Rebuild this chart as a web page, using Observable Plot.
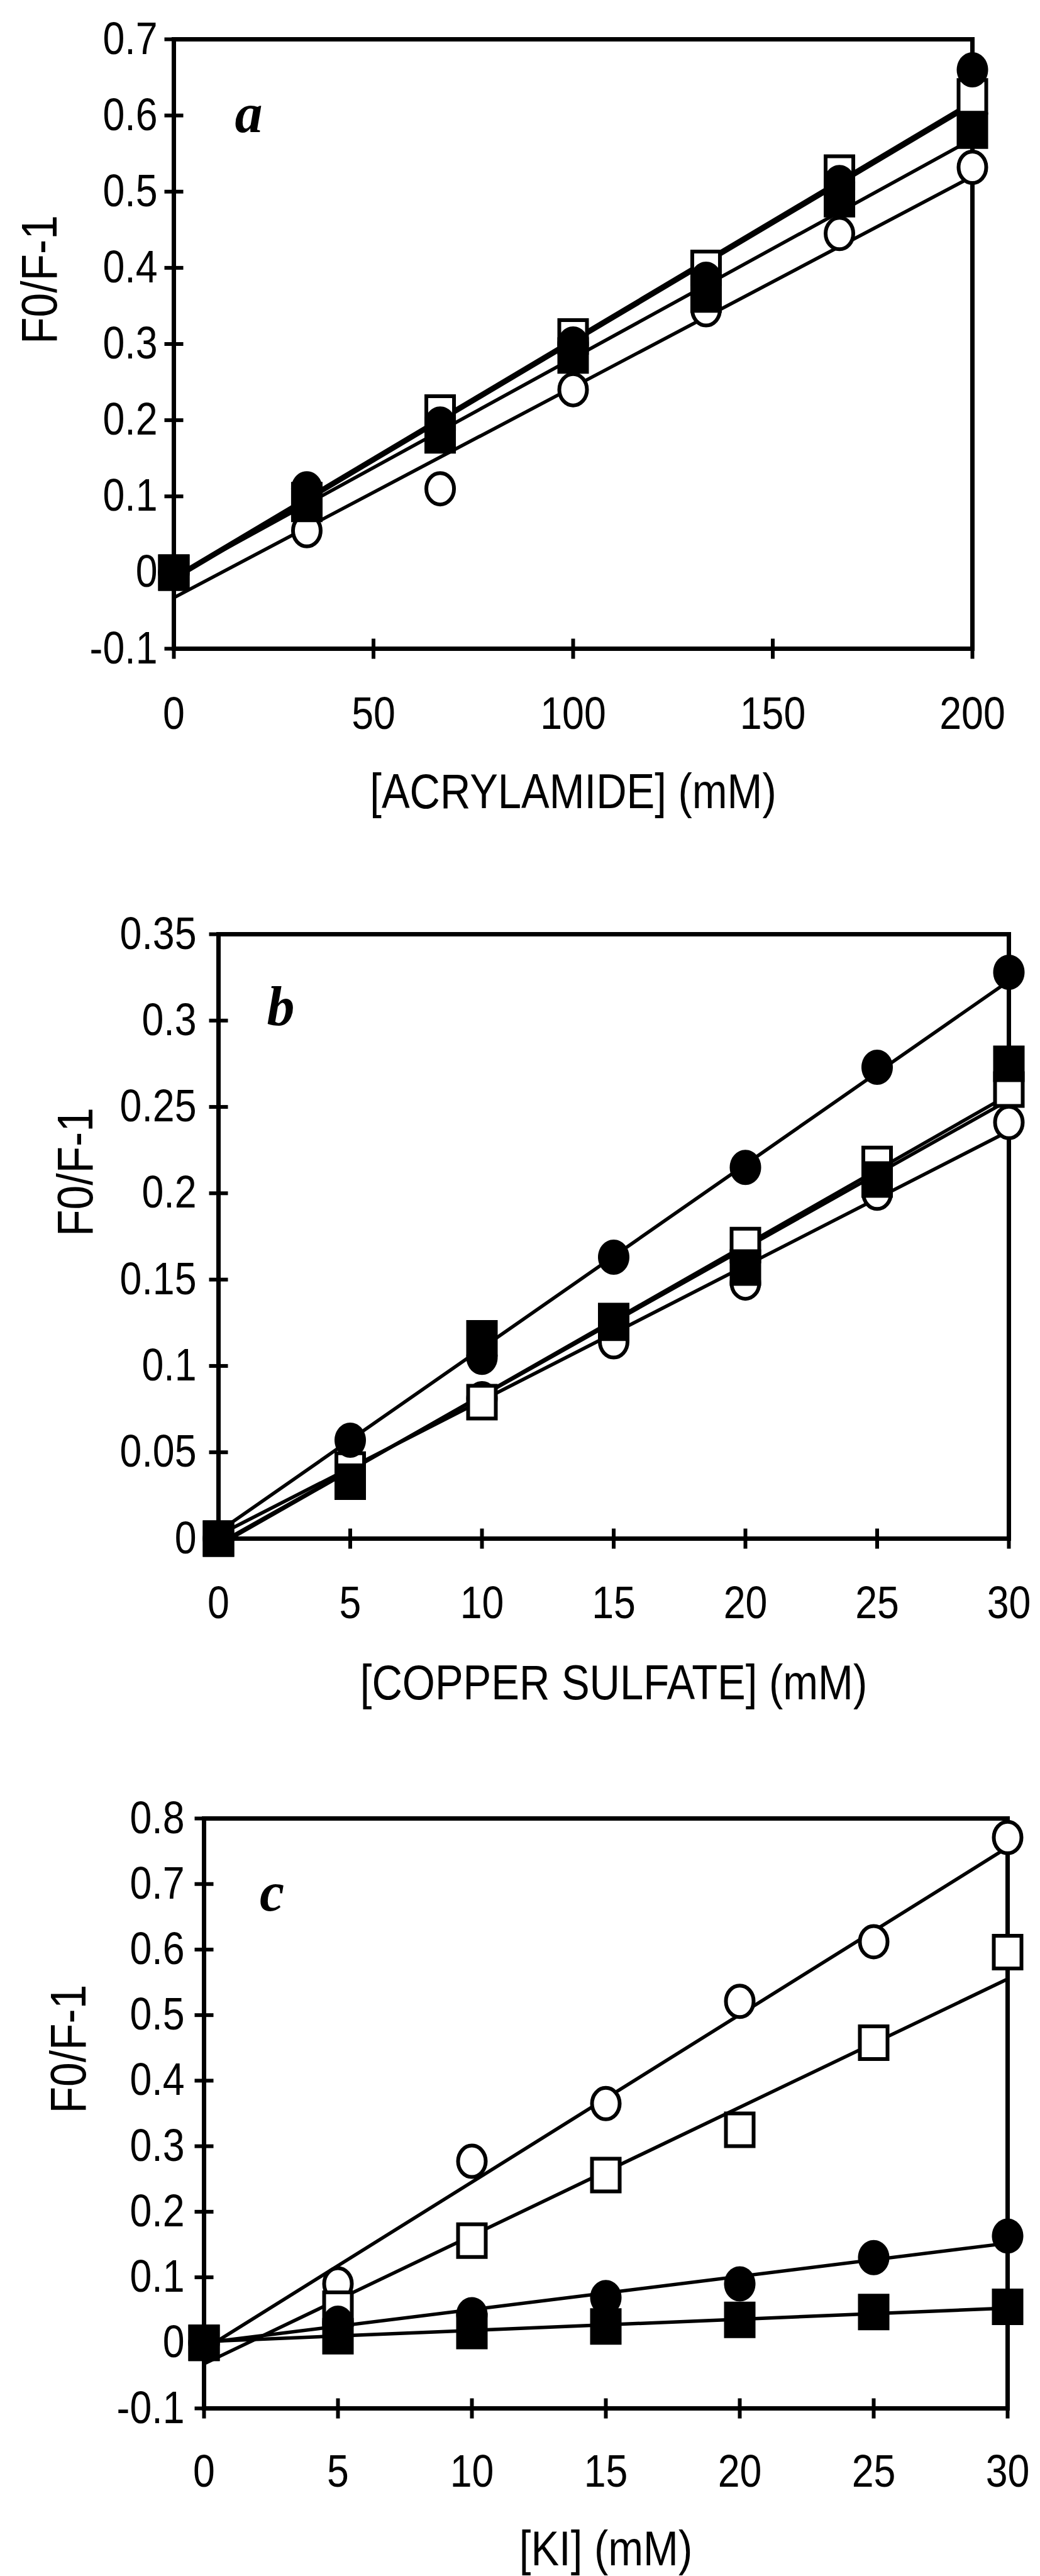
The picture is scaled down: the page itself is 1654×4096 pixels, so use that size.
<!DOCTYPE html>
<html>
<head>
<meta charset="utf-8">
<script src="https://cdn.jsdelivr.net/npm/d3@7"></script>
<script src="https://cdn.jsdelivr.net/npm/@observablehq/plot@0.6"></script>
<style>
  html, body { margin: 0; padding: 0; background: #fff; }
  #page { position: relative; width: 1654px; height: 4096px; overflow: hidden; background: #fff; }
  .panel { position: absolute; left: 0; }
</style>
</head>
<body>
<div id="page"></div>
<script>
// ---------------- DATA ----------------
// series order (also drawing order): open circle, open square, filled circle, filled square
const seriesOrder = ["openCircle", "openSquare", "filledCircle", "filledSquare"];

// Panel a — acrylamide
const acrylX = [0, 33.3, 66.7, 100, 133.3, 166.7, 200];
const acrylOpenCircle   = [0, 0.055, 0.11, 0.24, 0.345, 0.445, 0.532];
const acrylOpenSquare   = [0, 0.095, 0.21, 0.31, 0.40, 0.525, 0.625];
const acrylFilledCircle = [0, 0.11, 0.195, 0.30, 0.385, 0.512, 0.66];
const acrylFilledSquare = [0, 0.09, 0.18, 0.285, 0.365, 0.49, 0.58];
const acrylFitStart = [-0.033, -0.006, -0.009, -0.006];   // fitted line at first x
const acrylFitEnd   = [0.52, 0.618, 0.614, 0.569];        // fitted line at last x
const acrylXTicks = [0, 50, 100, 150, 200];
const acrylYTicks = [-0.1, 0, 0.1, 0.2, 0.3, 0.4, 0.5, 0.6, 0.7];

// Panel b — copper sulfate
const copperX = [0, 5, 10, 15, 20, 25, 30];
const copperOpenCircle   = [0, 0.042, 0.081, 0.114, 0.148, 0.20, 0.241];
const copperOpenSquare   = [0, 0.04, 0.079, 0.125, 0.17, 0.217, 0.26];
const copperFilledCircle = [0, 0.057, 0.105, 0.163, 0.215, 0.273, 0.328];
const copperFilledSquare = [0, 0.033, 0.116, 0.126, 0.157, 0.208, 0.275];
const copperFitStart = [0.002, -0.003, 0.004, -0.004];
const copperFitEnd   = [0.236, 0.254, 0.323, 0.257];
const copperXTicks = [0, 5, 10, 15, 20, 25, 30];
const copperYTicks = [0, 0.05, 0.1, 0.15, 0.2, 0.25, 0.3, 0.35];

// Panel c — KI
const kiX = [0, 5, 10, 15, 20, 25, 30];
const kiOpenCircle   = [0, 0.09, 0.277, 0.365, 0.521, 0.612, 0.771];
const kiOpenSquare   = [0, 0.052, 0.156, 0.256, 0.325, 0.458, 0.596];
const kiFilledCircle = [0, 0.03, 0.043, 0.069, 0.09, 0.13, 0.163];
const kiFilledSquare = [0, 0.01, 0.018, 0.025, 0.035, 0.047, 0.055];
const kiFitStart = [-0.01, -0.032, 0.0, 0.002];
const kiFitEnd   = [0.756, 0.555, 0.152, 0.053];
const kiXTicks = [0, 5, 10, 15, 20, 25, 30];
const kiYTicks = [-0.1, 0, 0.1, 0.2, 0.3, 0.4, 0.5, 0.6, 0.7, 0.8];

const yTitle = "F0/F-1";

// ---------------- SYMBOLS ----------------
const K = 0.5522847;
function ellipseSymbol(rx, ry) {
  return {draw(ctx) {
    ctx.moveTo(rx, 0);
    ctx.bezierCurveTo(rx, K * ry, K * rx, ry, 0, ry);
    ctx.bezierCurveTo(-K * rx, ry, -rx, K * ry, -rx, 0);
    ctx.bezierCurveTo(-rx, -K * ry, -K * rx, -ry, 0, -ry);
    ctx.bezierCurveTo(K * rx, -ry, rx, -K * ry, rx, 0);
    ctx.closePath();
  }};
}
function rectSymbol(w, h) { return {draw(ctx) { ctx.rect(-w, -h, 2 * w, 2 * h); }}; }
function segSymbol(dx, dy) { return {draw(ctx) { ctx.moveTo(-dx, -dy); ctx.lineTo(dx, dy); }}; }

const markerStyle = {
  openCircle:   {symbol: ellipseSymbol(22, 25), fill: "white", stroke: "black", strokeWidth: 6},
  openSquare:   {symbol: rectSymbol(22, 26),    fill: "white", stroke: "black", strokeWidth: 6},
  filledCircle: {symbol: ellipseSymbol(25, 28), fill: "black", stroke: "none"},
  filledSquare: {symbol: rectSymbol(25, 29),    fill: "black", stroke: "none"}
};

const SANS = "'Liberation Sans', Arial, Helvetica, sans-serif";
const TICK_FONT = 72;
const TITLE_FONT = 77;
const NARROW = 0.87;   // the scanned lettering is a narrow sans

function buildRows(xs, arrays) {
  return xs.flatMap((x, i) => seriesOrder.map((s, j) => ({x, y: arrays[j][i], s})));
}
function buildFits(xs, starts, ends) {
  return seriesOrder.map((s, j) => ({s, x1: xs[0], y1: starts[j], x2: xs[xs.length - 1], y2: ends[j]}));
}
const fmt = d => String(d);

function panel(cfg) {
  const rows = buildRows(cfg.xs, cfg.series);
  const fits = buildFits(cfg.xs, cfg.fitStart, cfg.fitEnd);
  const yMin = cfg.yDomain[0], xMin = cfg.xDomain[0];
  const marks = [
    Plot.axisX({ticks: cfg.xTicks, tickSize: 0, tickPadding: cfg.xTickPad, tickFormat: fmt, label: null, fontSize: TICK_FONT}),
    Plot.axisY({ticks: cfg.yTicks, tickSize: 0, tickPadding: cfg.yTickPad, tickFormat: fmt, label: null, fontSize: TICK_FONT}),
    Plot.frame({stroke: "black", strokeWidth: 7}),
    Plot.dot(cfg.xTicks, {x: d => d, y: () => yMin, symbol: segSymbol(0, 16), r: 16, stroke: "black", strokeWidth: 6, fill: "none"}),
    Plot.dot(cfg.yTicks, {x: () => xMin, y: d => d, symbol: segSymbol(15, 0), r: 15, stroke: "black", strokeWidth: 6, fill: "none"}),
    Plot.link(fits, {x1: "x1", y1: "y1", x2: "x2", y2: "y2", stroke: "black", strokeWidth: 5.5}),
    ...seriesOrder.map(s => Plot.dot(rows.filter(d => d.s === s), {x: "x", y: "y", r: 20, ...markerStyle[s]})),
    Plot.text([cfg.xTitle], {text: d => d, frameAnchor: "bottom", dy: cfg.xTitleDy, lineAnchor: "middle", fontSize: TITLE_FONT}),
    Plot.text([yTitle], {text: d => d, frameAnchor: "left", dx: cfg.yTitleDx, rotate: -90, lineAnchor: "middle", fontSize: 80}),
    Plot.text([cfg.letter], {text: d => d, frameAnchor: "top-left", dx: cfg.letterDx, dy: cfg.letterDy,
      textAnchor: "middle", lineAnchor: "middle", fontFamily: "'Liberation Serif', 'Times New Roman', serif",
      fontStyle: "italic", fontWeight: "bold", fontSize: 88})
  ];
  const svg = Plot.plot({
    width: 1654,
    height: cfg.height,
    marginLeft: cfg.marginLeft, marginRight: cfg.marginRight,
    marginTop: cfg.marginTop, marginBottom: cfg.marginBottom,
    x: {domain: cfg.xDomain},
    y: {domain: cfg.yDomain},
    style: {fontFamily: SANS, fontSize: TICK_FONT + "px", color: "black", background: "transparent", overflow: "visible"},
    marks
  });
  const wrap = document.createElement("div");
  wrap.className = "panel";
  wrap.style.top = cfg.top + "px";
  wrap.appendChild(svg);
  document.getElementById("page").appendChild(wrap);
}

panel({
  top: 0, height: 1320, marginLeft: 276, marginRight: 108, marginTop: 62, marginBottom: 289,
  xDomain: [0, 200], yDomain: [-0.1, 0.7],
  xs: acrylX, series: [acrylOpenCircle, acrylOpenSquare, acrylFilledCircle, acrylFilledSquare],
  fitStart: acrylFitStart, fitEnd: acrylFitEnd,
  xTicks: acrylXTicks, yTicks: acrylYTicks, xTickPad: 76, yTickPad: 26,
  xTitle: "[ACRYLAMIDE] (mM)", xTitleDy: 229, yTitleDx: -212,
  letter: "a", letterDx: 119, letterDy: 119
});

panel({
  top: 1420, height: 1330, marginLeft: 347, marginRight: 50, marginTop: 65, marginBottom: 304,
  xDomain: [0, 30], yDomain: [0, 0.35],
  xs: copperX, series: [copperOpenCircle, copperOpenSquare, copperFilledCircle, copperFilledSquare],
  fitStart: copperFitStart, fitEnd: copperFitEnd,
  xTicks: copperXTicks, yTicks: copperYTicks, xTickPad: 75, yTickPad: 35,
  xTitle: "[COPPER SULFATE] (mM)", xTitleDy: 231, yTitleDx: -226,
  letter: "b", letterDx: 99, letterDy: 116
});

panel({
  top: 2800, height: 1296, marginLeft: 324, marginRight: 52, marginTop: 91, marginBottom: 267,
  xDomain: [0, 30], yDomain: [-0.1, 0.8],
  xs: kiX, series: [kiOpenCircle, kiOpenSquare, kiFilledCircle, kiFilledSquare],
  fitStart: kiFitStart, fitEnd: kiFitEnd,
  xTicks: kiXTicks, yTicks: kiYTicks, xTickPad: 73, yTickPad: 31,
  xTitle: "[KI] (mM)", xTitleDy: 225, yTitleDx: -214,
  letter: "c", letterDx: 108, letterDy: 118
});

// Condense the sans-serif lettering (narrow face in the original) while keeping it real text.
document.querySelectorAll("#page svg text").forEach(t => {
  if (getComputedStyle(t).fontStyle === "italic") return;
  const len = t.getComputedTextLength();
  if (len > 0) {
    t.setAttribute("textLength", (len * NARROW).toFixed(1));
    t.setAttribute("lengthAdjust", "spacingAndGlyphs");
  }
});
</script>
</body>
</html>
